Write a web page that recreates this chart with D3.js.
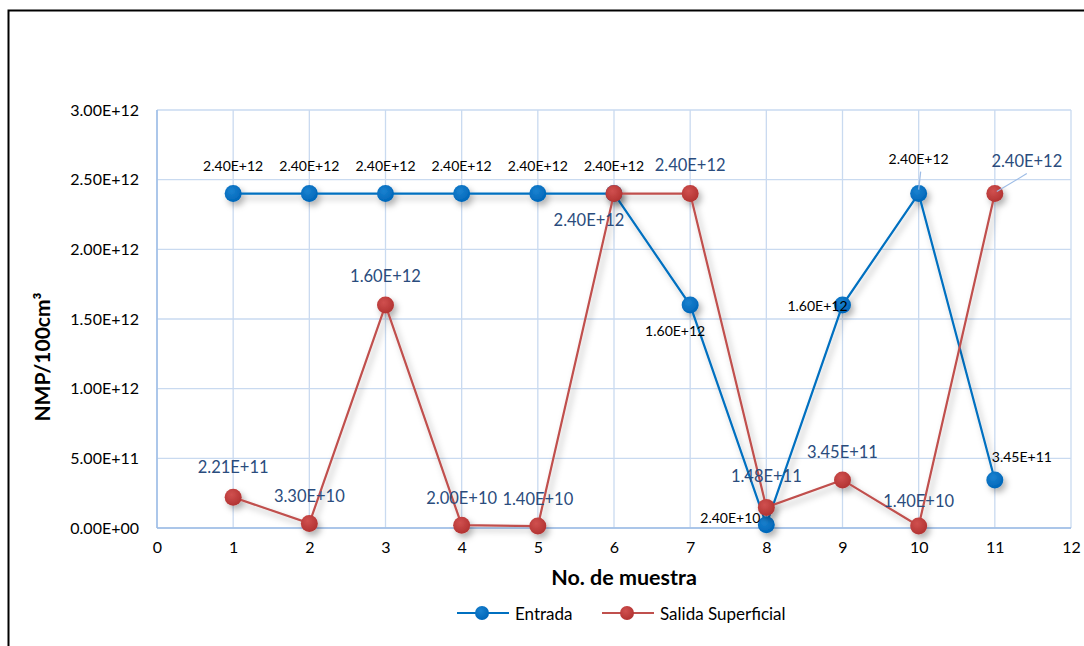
<!DOCTYPE html>
<html><head><meta charset="utf-8">
<script src="https://cdn.jsdelivr.net/npm/d3@7"></script>
<style>body{margin:0;background:#fff}svg{display:block}text{font-family:Lato,"Open Sans",sans-serif}</style>
</head><body><svg id="c" width="1084" height="646"></svg>
<script>
const samples = [1,2,3,4,5,6,7,8,9,10,11];
const entrada = [2.4e12,2.4e12,2.4e12,2.4e12,2.4e12,2.4e12,1.6e12,2.4e10,1.6e12,2.4e12,3.45e11];
const salida = [2.21e11,3.3e10,1.6e12,2.0e10,1.4e10,2.4e12,2.4e12,1.48e11,3.45e11,1.4e10,2.4e12];
const entradaLabels = ["2.40E+12","2.40E+12","2.40E+12","2.40E+12","2.40E+12","2.40E+12","1.60E+12","2.40E+10","1.60E+12","2.40E+12","3.45E+11"];
const salidaLabels = ["2.21E+11","3.30E+10","1.60E+12","2.00E+10","1.40E+10","2.40E+12","2.40E+12","1.48E+11","3.45E+11","1.40E+10","2.40E+12"];
const yTicks = [0,5e11,1e12,1.5e12,2e12,2.5e12,3e12];
const yTickLabels = ["0.00E+00","5.00E+11","1.00E+12","1.50E+12","2.00E+12","2.50E+12","3.00E+12"];
const xTicks = [0,1,2,3,4,5,6,7,8,9,10,11,12];
const seriesNames = ["Entrada","Salida Superficial"];

const entradaPos = [[0,-28],[0,-28],[0,-28],[0,-28],[0,-28],[0,-28],[-15,25],[-36,-7],[-25,0],[0,-35],[27,-23]];
const salidaPos = [[0,-30],[0,-27],[0,-29],[0,-27],[0,-27],[-25,26],[0,-29],[0,-31],[0,-28],[0,-25],[32,-33]];

const svg = d3.select("#c");
const x = d3.scaleLinear().domain([0,12]).range([157,1071]);
const y = d3.scaleLinear().domain([0,3e12]).range([528,110]);

const defs = svg.append("defs");
const f = defs.append("filter").attr("id","sh").attr("x","-50%").attr("y","-50%").attr("width","200%").attr("height","200%");
f.append("feDropShadow").attr("dx",3).attr("dy",4).attr("stdDeviation",3).attr("flood-color","#000").attr("flood-opacity",0.3);
function grad(id, c1, c2){
  const g = defs.append("radialGradient").attr("id",id).attr("cx","40%").attr("cy","35%").attr("r","65%");
  g.append("stop").attr("offset","0%").attr("stop-color",c1);
  g.append("stop").attr("offset","100%").attr("stop-color",c2);
}
grad("gb","#1a82d0","#0066b8");
grad("gr","#d0504f","#b23332");

svg.append("rect").attr("x",8.5).attr("y",10.5).attr("width",1090).attr("height",650).attr("fill","none").attr("stroke","#000").attr("stroke-width",2);

svg.append("g").selectAll("line").data(yTicks).join("line")
  .attr("x1",x(0)).attr("x2",x(12)).attr("y1",d=>y(d)).attr("y2",d=>y(d))
  .attr("stroke","#C9DAF0").attr("stroke-width",1.3);
svg.append("g").selectAll("line").data(xTicks).join("line")
  .attr("x1",d=>x(d)).attr("x2",d=>x(d)).attr("y1",y(0)).attr("y2",y(3e12))
  .attr("stroke","#C9DAF0").attr("stroke-width",1.3);
svg.append("line").attr("x1",x(0)).attr("x2",x(12)).attr("y1",y(0)).attr("y2",y(0)).attr("stroke","#9DBCE6").attr("stroke-width",1.5);
svg.append("line").attr("x1",x(0)).attr("x2",x(0)).attr("y1",y(0)).attr("y2",y(3e12)).attr("stroke","#9DBCE6").attr("stroke-width",1.5);

const yAxis = d3.axisLeft(y).tickValues(yTicks).tickFormat((d,i)=>yTickLabels[i]).tickSize(0).tickPadding(18);
const gy = svg.append("g").attr("transform",`translate(${x(0)},0)`).call(yAxis);
gy.select(".domain").remove();
gy.selectAll("text").attr("font-size",16).attr("fill","#000").attr("font-family","Lato");
const xAxis = d3.axisBottom(x).tickValues(xTicks).tickFormat(d3.format("d")).tickSize(0).tickPadding(14);
const gx = svg.append("g").attr("transform",`translate(0,${y(0)})`).call(xAxis);
gx.select(".domain").remove();
gx.selectAll("text").attr("font-size",16).attr("fill","#000").attr("font-family","Lato");

svg.append("text").attr("x",624).attr("y",585).attr("text-anchor","middle").attr("font-size",21.5).attr("font-weight","bold").text("No. de muestra");
svg.append("text").attr("transform","translate(50,357) rotate(-90)").attr("text-anchor","middle").attr("font-size",21).attr("font-weight","bold")
  .text("NMP/100cm³");

const line = d3.line().x((d,i)=>x(samples[i])).y(d=>y(d));
const series = [
  {vals:salida, color:"#C0504D", fill:"url(#gr)", labels:salidaLabels, pos:salidaPos, lc:"#2A4C7D", fs:16.5},
  {vals:entrada, color:"#0070C0", fill:"url(#gb)", labels:entradaLabels, pos:entradaPos, lc:"#000", fs:14}
];
const order = [series[1], series[0]];
order.forEach(s=>{
  const g = svg.append("g").attr("filter","url(#sh)");
  g.append("path").datum(s.vals).attr("d",line).attr("fill","none").attr("stroke",s.color).attr("stroke-width",2.2);
  g.selectAll("circle").data(s.vals).join("circle")
    .attr("cx",(d,i)=>x(samples[i])).attr("cy",d=>y(d)).attr("r",8.5).attr("fill",s.fill);
});
svg.append("line").attr("x1",x(10)).attr("y1",y(2.4e12)-4).attr("x2",x(10)+2).attr("y2",y(2.4e12)-22).attr("stroke","#9DBCE6").attr("stroke-width",1.2);
svg.append("line").attr("x1",x(11)+2).attr("y1",y(2.4e12)-2).attr("x2",x(11)+32).attr("y2",y(2.4e12)-20).attr("stroke","#9DBCE6").attr("stroke-width",1.2);
order.forEach(s=>{
  svg.append("g").selectAll("text").data(s.vals).join("text")
    .attr("x",(d,i)=>x(samples[i])+s.pos[i][0]).attr("y",(d,i)=>y(d)+s.pos[i][1])
    .attr("text-anchor","middle").attr("dominant-baseline","central")
    .attr("font-size",s.fs).attr("fill",s.lc).text((d,i)=>s.labels[i]);
});

const leg = [{n:seriesNames[0],c:"#0070C0",f:"url(#gb)",x:457},{n:seriesNames[1],c:"#C0504D",f:"url(#gr)",x:602}];
leg.forEach(l=>{
  svg.append("line").attr("x1",l.x).attr("x2",l.x+52).attr("y1",613).attr("y2",613).attr("stroke",l.c).attr("stroke-width",2.2);
  svg.append("circle").attr("cx",l.x+25).attr("cy",613).attr("r",7).attr("fill",l.f);
  svg.append("text").attr("x",l.x+58).attr("y",613).attr("dominant-baseline","central").attr("font-size",17).text(l.n);
});
</script></body></html>
